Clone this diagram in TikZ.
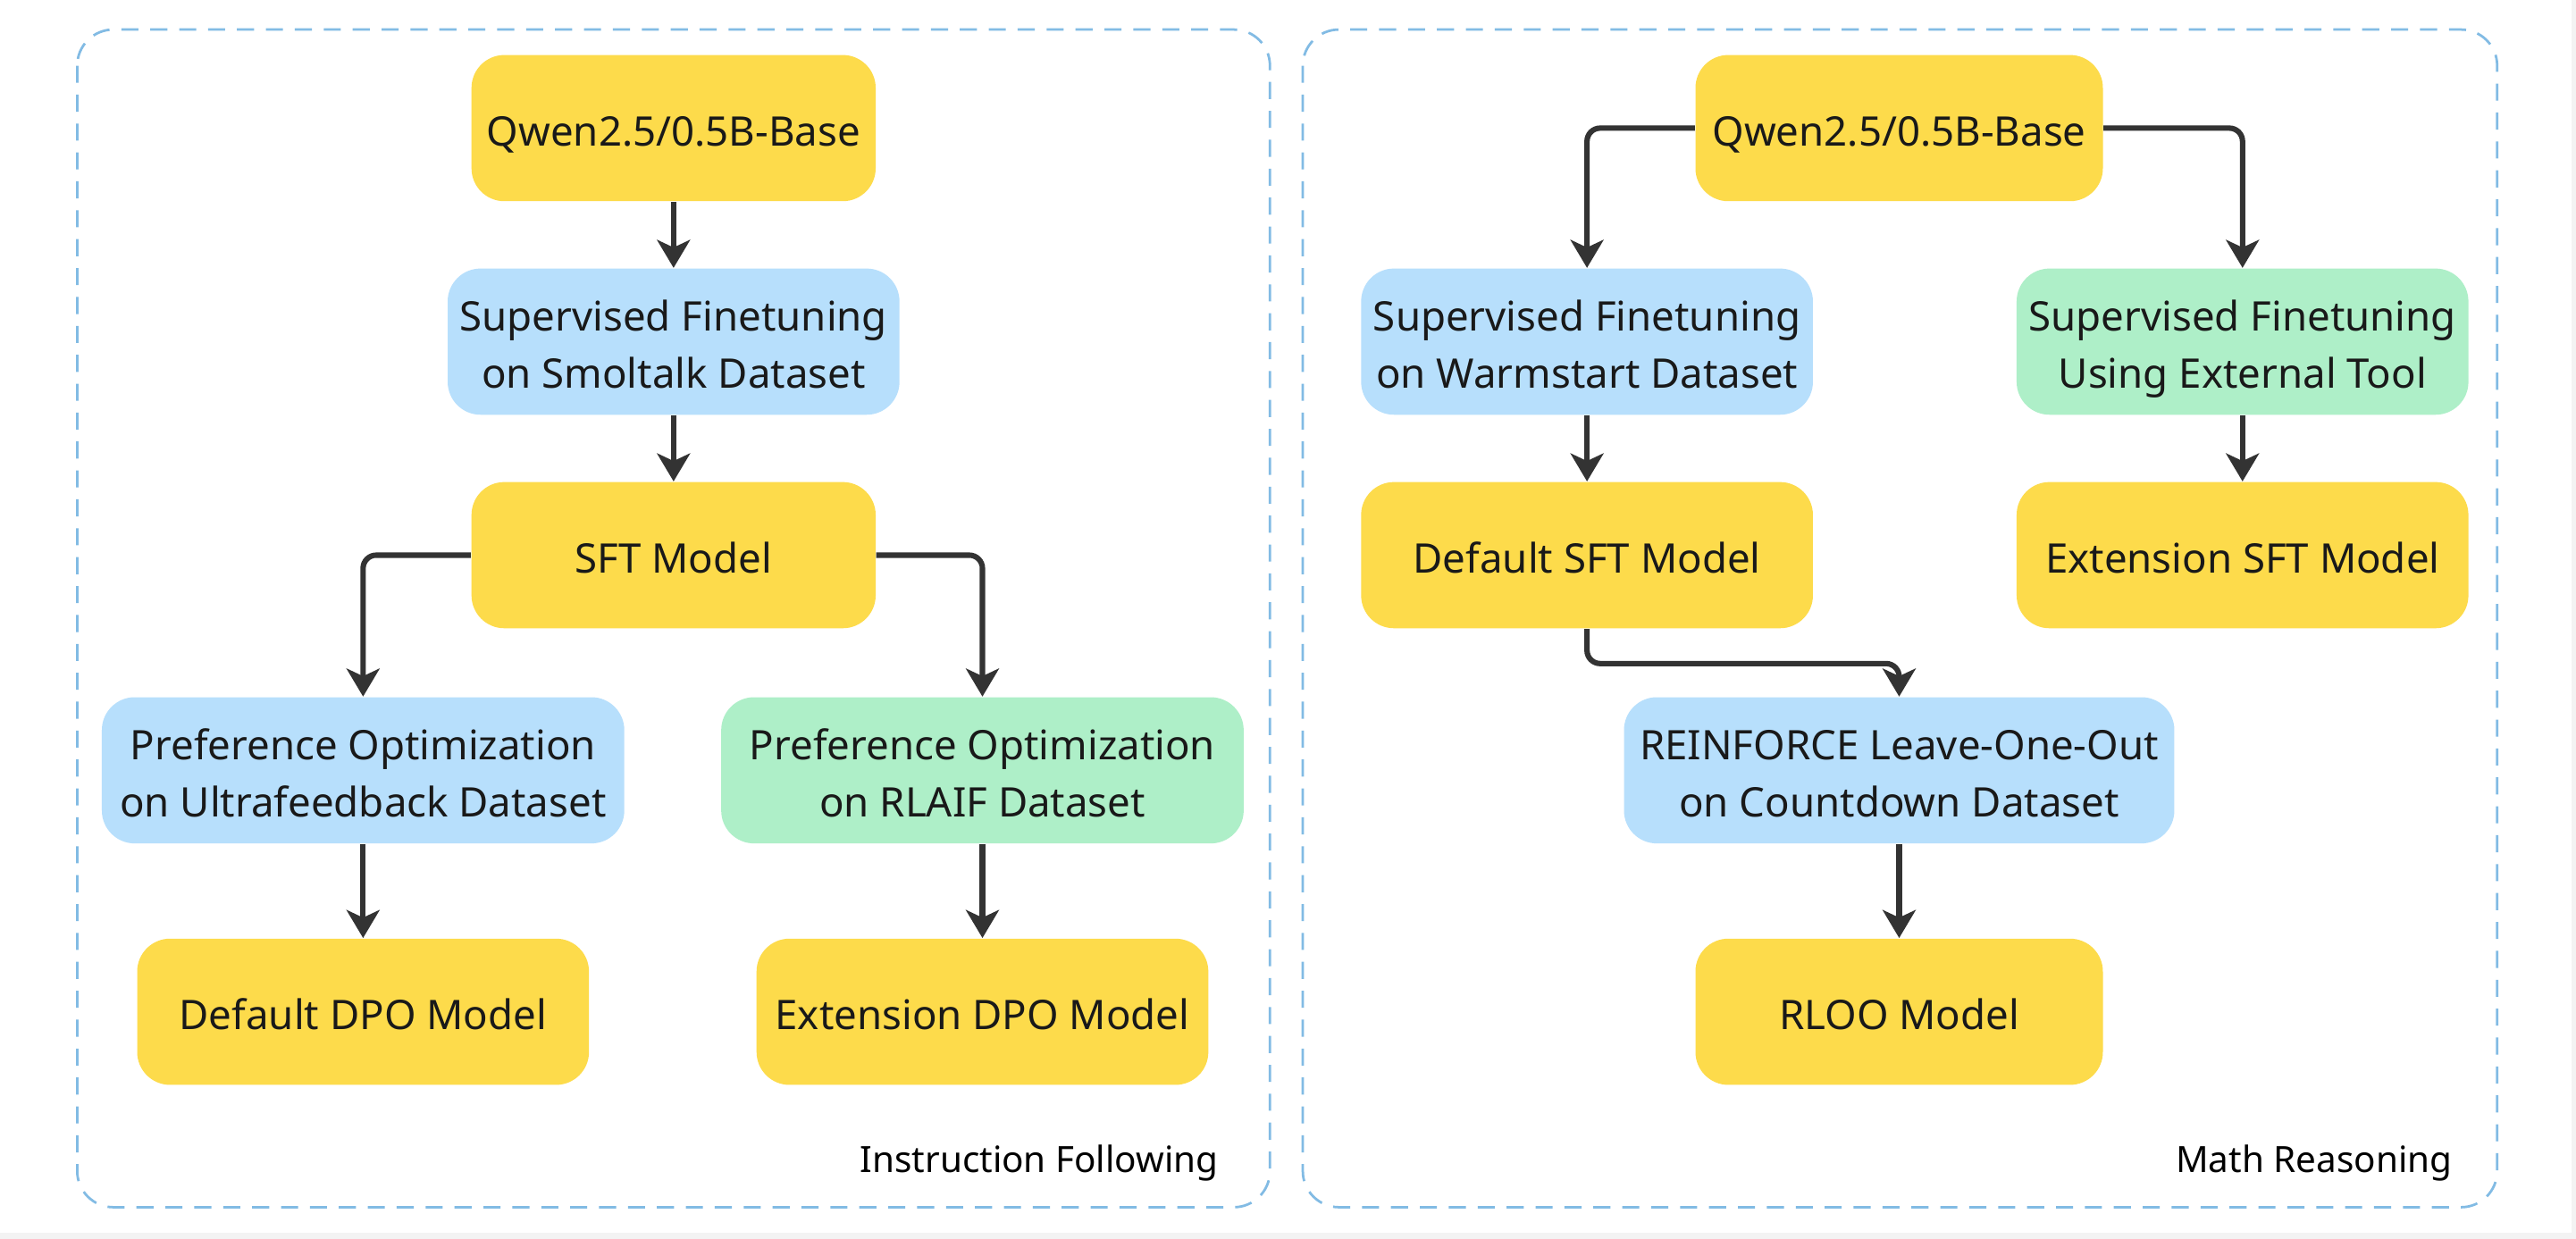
\documentclass[tikz,border=0pt]{standalone}
\usepackage{fontspec}
\setmainfont{Noto Sans}
\usepackage{tikz}
\usetikzlibrary{arrows.meta,backgrounds}

\definecolor{modelyellow}{HTML}{FDDB4B}
\definecolor{stageblue}{HTML}{B7DFFC}
\definecolor{stagegreen}{HTML}{AEEFC8}
\definecolor{panelline}{HTML}{82BBE4}
\definecolor{linkgray}{HTML}{333333}
\definecolor{edgegray}{HTML}{F3F3F3}

% struts for the first and the last line of a box
\newcommand{\hiline}{\rule{0pt}{14.5pt}}
\newcommand{\loline}{\rule[-3.5pt]{0pt}{3.5pt}}

\tikzset{
  box/.style={rounded corners=10pt, minimum height=44.5pt, align=center, inner sep=2pt,
    text=black!90, font=\fontsize{12.4}{17.5}\selectfont},
  model/.style={box, fill=modelyellow},
  stageb/.style={box, fill=stageblue},
  stageg/.style={box, fill=stagegreen},
  panel/.style={draw=panelline, line width=0.75pt, dash pattern=on 5.2pt off 3.6pt, rounded corners=11pt},
  link/.style={draw=linkgray, line width=1.65pt, rounded corners=4pt,
    -{Stealth[length=8.5pt,width=10pt,inset=2.3pt]}},
  tag/.style={anchor=east, inner sep=0pt, font=\fontsize{11}{13}\selectfont}
}

\begin{document}
\begin{tikzpicture}[x=0.5pt,y=0.5pt,yscale=-1,xscale=1]
%page and thin grey edge
\fill[edgegray] (0,0) rectangle (1568,754.3);
\fill[white] (0,0) rectangle (1565.3,750.5);
\useasboundingbox (0,0) rectangle (1568,754.3);

%Shape: panels
\draw[panel] (47,18) rectangle (773,735);
\draw[panel] (793,18) rectangle (1520,735);

%Instruction following
\node[model, minimum width=123pt] (qwenA) at (410,78) {\hiline Qwen2.5/0.5B-Base\loline};
\node[stageb, minimum width=137.5pt] (sftA) at (410,208) {\hiline Supervised Finetuning\\on Smoltalk Dataset\loline};
\node[model, minimum width=123pt] (sftmodel) at (410,338) {\hiline SFT Model\loline};
\node[stageb, minimum width=159pt] (pouf) at (221,469) {\hiline Preference Optimization\\on Ultrafeedback Dataset\loline};
\node[stageg, minimum width=159pt] (porl) at (598,469) {\hiline Preference Optimization\\on RLAIF Dataset\loline};
\node[model, minimum width=137.5pt] (dpodef) at (221,616) {\hiline Default DPO Model\loline};
\node[model, minimum width=137.5pt] (dpoext) at (598,616) {\hiline Extension DPO Model\loline};

%Math reasoning
\node[model, minimum width=124pt] (qwenB) at (1156,78) {\hiline Qwen2.5/0.5B-Base\loline};
\node[stageb, minimum width=137.5pt] (sftwarm) at (966,208) {\hiline Supervised Finetuning\\on Warmstart Dataset\loline};
\node[stageg, minimum width=137.5pt] (sfttool) at (1365,208) {\hiline Supervised Finetuning\\Using External Tool\loline};
\node[model, minimum width=137.5pt] (sftdef) at (966,338) {\hiline Default SFT Model\loline};
\node[model, minimum width=137.5pt] (sftext) at (1365,338) {\hiline Extension SFT Model\loline};
\node[stageb, minimum width=167.5pt] (rloo) at (1156,469) {\hiline REINFORCE Leave-One-Out\\on Countdown Dataset\loline};
\node[model, minimum width=124pt] (rloomodel) at (1156,616) {\hiline RLOO Model\loline};
\coordinate (bend) at (966,404);

%Straight Lines
\draw[link] (qwenA) -- (sftA);
\draw[link] (sftA) -- (sftmodel);
\draw[link] (sftmodel.west) -| (pouf.north);
\draw[link] (sftmodel.east) -| (porl.north);
\draw[link] (pouf) -- (dpodef);
\draw[link] (porl) -- (dpoext);

\draw[link] (qwenB.west) -| (sftwarm.north);
\draw[link] (qwenB.east) -| (sfttool.north);
\draw[link] (sftwarm) -- (sftdef);
\draw[link] (sfttool) -- (sftext);
\draw[link] (sftdef.south) -- (bend) -| (rloo.north);
\draw[link] (rloo) -- (rloomodel);

% Text Node
\node[tag] (tagA) at (742,708) {Instruction Following};
\node[tag] (tagB) at (1493,708) {Math Reasoning};

\end{tikzpicture}
\end{document}
